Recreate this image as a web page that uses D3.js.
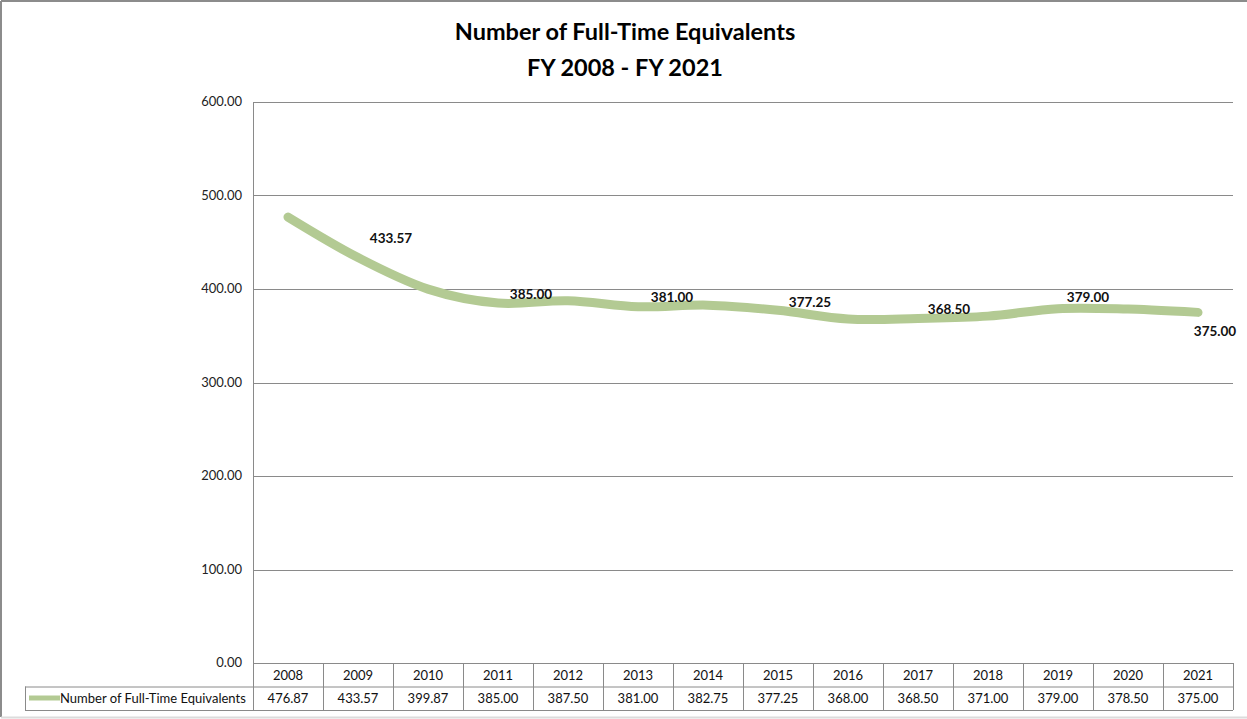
<!DOCTYPE html>
<html>
<head>
<meta charset="utf-8">
<script src="https://cdn.jsdelivr.net/npm/d3@7"></script>
<style>
  body { margin: 0; background: #fff; }
  svg { display: block; font-family: Lato, "Liberation Sans", sans-serif; }
  .tick-label { font-size: 13px; fill: #222; }
  .cell { font-size: 13px; fill: #111; }
  .data-label { font-size: 13.5px; font-weight: bold; fill: #111; }
  .title { font-size: 23.5px; font-weight: bold; fill: #000; }
</style>
</head>
<body>
<svg class="chart" width="1247" height="719"></svg>
<script>
// data
const years = ["2008", "2009", "2010", "2011", "2012", "2013", "2014",
               "2015", "2016", "2017", "2018", "2019", "2020", "2021"];
const fte = [476.87, 433.57, 399.87, 385.00, 387.50, 381.00, 382.75,
             377.25, 368.00, 368.50, 371.00, 379.00, 378.50, 375.00];
const yTicks = [0, 100, 200, 300, 400, 500, 600];
const seriesName = "Number of Full-Time Equivalents";
const titleLines = ["Number of Full-Time Equivalents", "FY 2008 - FY 2021"];

// which points carry a label, and where it sits relative to the point
const labelled = [1, 3, 5, 7, 9, 11, 13];
const labelOffsets = [[33, -20], [33, -9], [34, -10], [32, -8], [31, -9], [30, -12], [17, 19]];

const svg = d3.select(".chart");
const plotL = 253, plotR = 1233, plotT = 102, plotB = 663;
const rowH = 23.5;

const x = d3.scaleBand().domain(years).range([plotL, plotR]);
const y = d3.scaleLinear().domain([0, 600]).range([plotB, plotT]);

// outer border
svg.append("line").attr("x1", 1).attr("x2", 1).attr("y1", 1).attr("y2", 717)
    .attr("stroke", "#8c8c8c").attr("stroke-width", 2);
svg.append("line").attr("x1", 1).attr("x2", 1247).attr("y1", 1).attr("y2", 1)
    .attr("stroke", "#8c8c8c").attr("stroke-width", 2);
svg.append("line").attr("x1", 1).attr("x2", 1247).attr("y1", 717.5).attr("y2", 717.5)
    .attr("stroke", "#dcdcdc").attr("stroke-width", 2);

// title
svg.append("g").selectAll("text").data(titleLines).enter().append("text")
    .attr("class", "title")
    .attr("x", 625)
    .attr("y", (d, i) => 40 + i * 36)
    .attr("text-anchor", "middle")
    .text(d => d);

// gridlines + y labels
svg.append("g").selectAll("line").data(yTicks).enter().append("line")
    .attr("x1", plotL).attr("x2", plotR)
    .attr("y1", d => Math.round(y(d)) + 0.5).attr("y2", d => Math.round(y(d)) + 0.5)
    .attr("stroke", "#8a8a8a");

svg.append("g").selectAll("text").data(yTicks).enter().append("text")
    .attr("class", "tick-label")
    .attr("x", 242)
    .attr("y", d => y(d) - 1)
    .attr("text-anchor", "end")
    .attr("dominant-baseline", "central")
    .text(d => d3.format(".2f")(d));

// vertical axis line
svg.append("line").attr("x1", plotL + 0.5).attr("x2", plotL + 0.5)
    .attr("y1", plotT).attr("y2", plotB + 2 * rowH)
    .attr("stroke", "#8a8a8a");

// data table
const tbl = svg.append("g");
const rowMid = plotB + rowH;
tbl.append("line").attr("x1", 25).attr("x2", plotR).attr("y1", rowMid + 0.5).attr("y2", rowMid + 0.5)
    .attr("stroke", "#8a8a8a");
tbl.append("line").attr("x1", 25).attr("x2", plotR).attr("y1", plotB + 2 * rowH + 0.5).attr("y2", plotB + 2 * rowH + 0.5)
    .attr("stroke", "#8a8a8a");
tbl.append("line").attr("x1", 25.5).attr("x2", 25.5).attr("y1", rowMid).attr("y2", plotB + 2 * rowH)
    .attr("stroke", "#8a8a8a");
tbl.selectAll("line.col").data(years).enter().append("line")
    .attr("class", "col")
    .attr("x1", d => Math.round(x(d) + x.bandwidth()) + 0.5)
    .attr("x2", d => Math.round(x(d) + x.bandwidth()) + 0.5)
    .attr("y1", plotB).attr("y2", plotB + 2 * rowH)
    .attr("stroke", "#8a8a8a");

tbl.selectAll("text.yr").data(years).enter().append("text")
    .attr("class", "cell yr")
    .attr("x", d => x(d) + x.bandwidth() / 2)
    .attr("y", plotB + 16.5)
    .attr("text-anchor", "middle")
    .text(d => d);

tbl.selectAll("text.val").data(fte).enter().append("text")
    .attr("class", "cell val")
    .attr("x", (d, i) => x(years[i]) + x.bandwidth() / 2)
    .attr("y", rowMid + 16.5)
    .attr("text-anchor", "middle")
    .text(d => d3.format(".2f")(d));

// legend key in table
tbl.append("line").attr("x1", 29).attr("x2", 60)
    .attr("y1", rowMid + 11.5).attr("y2", rowMid + 11.5)
    .attr("stroke", "#b3ca93").attr("stroke-width", 5);
tbl.append("text").attr("class", "cell")
    .attr("x", 60).attr("y", rowMid + 16.5)
    .text(seriesName);

// the line
const line = d3.line()
    .x((d, i) => x(years[i]) + x.bandwidth() / 2)
    .y(d => y(d))
    .curve(d3.curveCardinal.tension(0));

svg.append("path")
    .datum(fte)
    .attr("d", line)
    .attr("fill", "none")
    .attr("stroke", "#b3ca93")
    .attr("stroke-width", 9)
    .attr("stroke-linecap", "round")
    .attr("stroke-linejoin", "round");

// data labels
svg.append("g").selectAll("text").data(labelled).enter().append("text")
    .attr("class", "data-label")
    .attr("x", (d, i) => x(years[d]) + x.bandwidth() / 2 + labelOffsets[i][0])
    .attr("y", (d, i) => y(fte[d]) + labelOffsets[i][1])
    .attr("text-anchor", "middle")
    .attr("dominant-baseline", "central")
    .text(d => d3.format(".2f")(fte[d]));
</script>
</body>
</html>
